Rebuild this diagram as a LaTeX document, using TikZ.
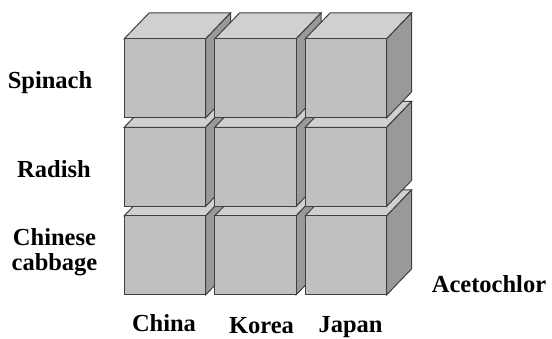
\documentclass[tikz,border=0pt]{standalone}
\usepackage{fontspec}
\setmainfont{Liberation Serif}
\begin{document}
\begin{tikzpicture}[x=1pt,y=-1pt,
  face/.style={draw=black!75,line width=1pt,line join=miter},
  lbl/.style={font=\fontsize{24.5}{26}\selectfont\bfseries,anchor=base,inner sep=0pt}]
\definecolor{cfront}{HTML}{C0C0C0}
\definecolor{ctop}{HTML}{D0D0D0}
\definecolor{cside}{HTML}{999999}
\useasboundingbox (0,0) rectangle (552,339);
\def\cw{81.5}\def\ch{79}\def\dx{25}\def\dy{26}
\foreach \yy in {216,127.5,39}{
  \foreach \xx in {124,214.5,305}{
    \fill[ctop] (\xx,\yy) -- ++(\dx,-\dy) -- ++(\cw,0) -- ++(-\dx,\dy) -- cycle;
    \draw[face] (\xx,\yy) -- ++(\dx,-\dy) -- ++(\cw,0) -- ++(-\dx,\dy) -- cycle;
    \filldraw[face,fill=cside] (\xx+\cw,\yy) -- ++(\dx,-\dy) -- ++(0,\ch) -- ++(-\dx,\dy) -- cycle;
    \filldraw[face,fill=cfront] (\xx,\yy) rectangle ++(\cw,\ch);
  }
}
\node[lbl] (spinach) at (50,89) {Spinach};
\node[lbl] (radish) at (54,178) {Radish};
\node[lbl] (chinese) at (54.5,246) {Chinese};
\node[lbl] (cabbage) at (54.5,271) {cabbage};
\node[lbl] (china) at (164,332) {China};
\node[lbl] (korea) at (261.5,333.5) {Korea};
\node[lbl] (japan) at (350.5,332.5) {Japan};
\node[lbl] (aceto) at (489,293) {Acetochlor};
\end{tikzpicture}
\end{document}
